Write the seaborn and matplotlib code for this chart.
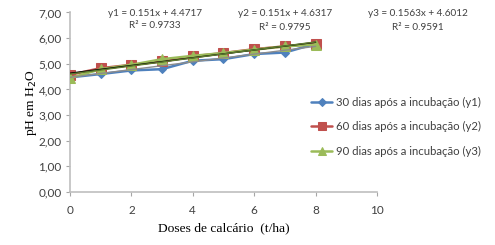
import matplotlib
matplotlib.use("Agg")
import matplotlib.pyplot as plt
import seaborn as sns
import numpy as np
import pandas as pd

doses = [0, 1, 2, 3, 4, 5, 6, 7, 8]
ph_30 = [4.47, 4.60, 4.74, 4.79, 5.12, 5.18, 5.38, 5.44, 5.78]
ph_60 = [4.57, 4.83, 4.96, 5.09, 5.29, 5.42, 5.57, 5.68, 5.78]
ph_90 = [4.44, 4.79, 4.96, 5.18, 5.31, 5.42, 5.55, 5.68, 5.75]
series_names = ["30 dias após a incubação (y1)",
                "60 dias após a incubação (y2)",
                "90 dias após a incubação (y3)"]
slopes = [0.151, 0.151, 0.1563]
intercepts = [4.4717, 4.6317, 4.6012]
r2 = [0.9733, 0.9795, 0.9591]
eq_labels = ["y1", "y2", "y3"]
x_ticks = [0, 2, 4, 6, 8, 10]
y_ticks = [0, 1, 2, 3, 4, 5, 6, 7]

sns.set_theme(style="white")
plt.rcParams["font.family"] = ["Lato", "DejaVu Sans"]

fig = plt.figure(figsize=(4.95, 2.45), dpi=100)
ax = fig.add_axes([0.1414, 0.2163, 0.6202, 0.7327])

colors = ["#4F81BD", "#C0504D", "#9BBB59"]
markers = ["D", "s", "^"]
msizes = [4.5, 7, 6.5]
trend_colors = ["#8C8C8C", "#000000", "#5E7A2E"]

df = pd.DataFrame({"dose": doses * 3,
                   "ph": ph_30 + ph_60 + ph_90,
                   "serie": sum([[n] * len(doses) for n in series_names], [])})

for i, name in enumerate(series_names):
    sub = df[df["serie"] == name]
    sns.lineplot(data=sub, x="dose", y="ph", ax=ax, color=colors[i],
                 marker=markers[i], markersize=msizes[i], markeredgecolor=colors[i],
                 linewidth=1.8, label=name, zorder=3 + i)

xt = np.array([doses[0], doses[-1]])
for i in range(3):
    ax.plot(xt, slopes[i] * xt + intercepts[i], color=trend_colors[i],
            linewidth=1.0, zorder=7, label="_nolegend_")

ax.set_xlim(0, 10)
ax.set_ylim(0, 7)
ax.set_xticks(x_ticks)
ax.set_xticklabels([str(t) for t in x_ticks])
ax.set_yticks(y_ticks)
ax.set_yticklabels([f"{t:.2f}".replace(".", ",") for t in y_ticks])
ax.tick_params(axis="both", labelsize=8.5, colors="#404040", length=3,
               width=0.8, direction="out", pad=3)
ax.tick_params(axis="both", color="#A6A6A6")
ax.xaxis.set_ticks_position("bottom")
ax.yaxis.set_ticks_position("left")
ax.tick_params(axis="x", pad=6)
for s in ["top", "right"]:
    ax.spines[s].set_visible(False)
for s in ["left", "bottom"]:
    ax.spines[s].set_color("#BFBFBF")
    ax.spines[s].set_linewidth(1.2)

ax.set_xlabel("Doses de calcário  (t/ha)", family=["Liberation Serif"], fontsize=9.7,
              color="#000000", labelpad=5)
ax.set_ylabel("pH em H$_2$O", family=["Liberation Serif"], fontsize=9.7,
              color="#000000")
ax.yaxis.set_label_coords(-0.1, 0.5)

eq_pos = [(155, 13), (285, 14), (418, 14)]
for i in range(3):
    px, py = eq_pos[i]
    fig.text(px / 495, 1 - py / 245,
             f"{eq_labels[i]} = {slopes[i]}x + {intercepts[i]}",
             ha="center", va="center", fontsize=7.2, color="#404040")
    fig.text(px / 495, 1 - (py + 13) / 245, f"R² = {r2[i]}",
             ha="center", va="center", fontsize=7.2, color="#404040")

leg = ax.legend(loc="center left", bbox_to_anchor=(0.628, 0.482),
                bbox_transform=fig.transFigure, frameon=False, fontsize=8.2,
                labelspacing=1.2, handlelength=1.9, handletextpad=0.3,
                borderaxespad=0, borderpad=0, markerscale=0.85)
for t in leg.get_texts():
    t.set_color("#404040")

fig.savefig("out.png", dpi=100)
